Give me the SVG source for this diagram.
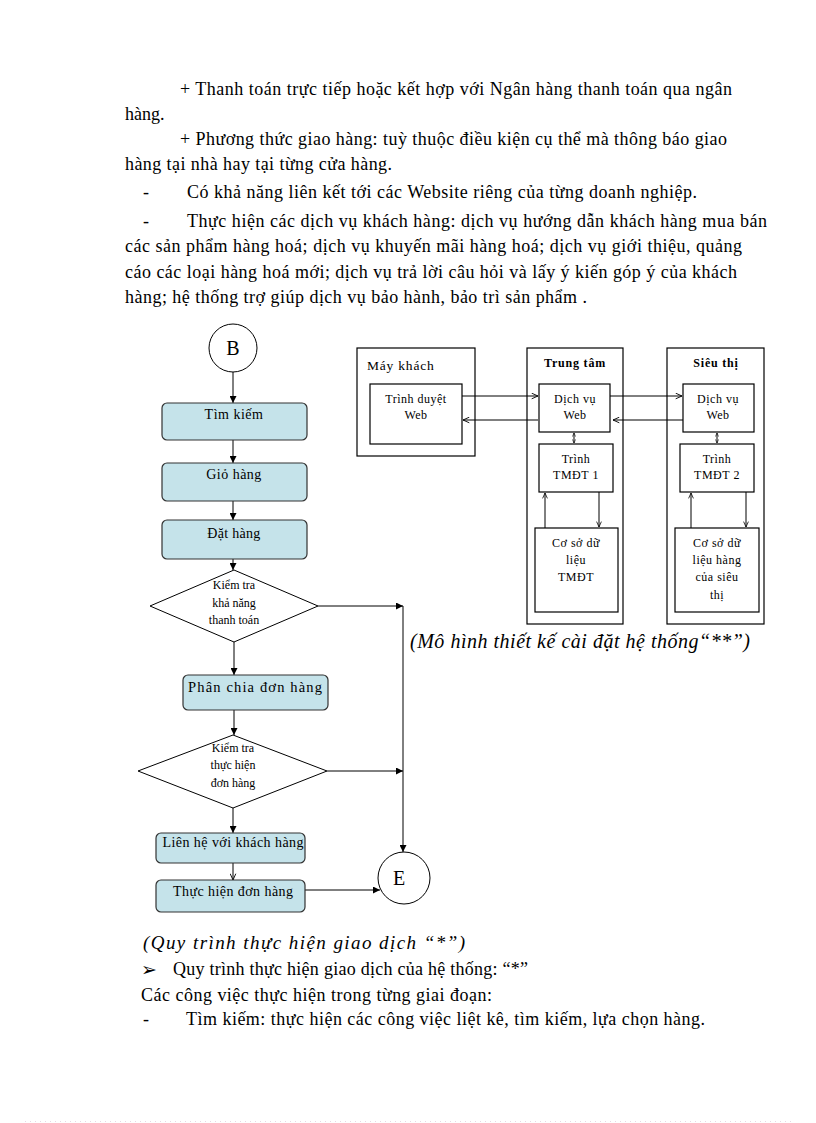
<svg xmlns="http://www.w3.org/2000/svg" width="816" height="1123" viewBox="0 0 816 1123">
<defs>
<marker id="fa" viewBox="0 0 10 10" refX="10" refY="5" markerWidth="7" markerHeight="7" markerUnits="userSpaceOnUse" orient="auto"><path d="M0,0 L10,5 L0,10 z" fill="#000"/></marker>
<marker id="oa" viewBox="0 0 10 10" refX="10" refY="5" markerWidth="7" markerHeight="7" markerUnits="userSpaceOnUse" orient="auto"><path d="M1,1 L10,5 L1,9" fill="none" stroke="#000" stroke-width="1.3"/></marker>
<marker id="os" viewBox="0 0 10 10" refX="10" refY="5" markerWidth="6" markerHeight="6" markerUnits="userSpaceOnUse" orient="auto-start-reverse"><path d="M1,1 L10,5 L1,9" fill="none" stroke="#000" stroke-width="1.3"/></marker>
<marker id="ot" viewBox="0 0 10 10" refX="10" refY="5" markerWidth="4" markerHeight="4" markerUnits="userSpaceOnUse" orient="auto-start-reverse"><path d="M1,1 L10,5 L1,9" fill="none" stroke="#000" stroke-width="1.5"/></marker>
</defs>
<style>
.body{font-family:"Liberation Serif","Times New Roman",serif;font-size:18px;fill:#000}
.it{font-family:"Liberation Serif","Times New Roman",serif;font-style:italic;fill:#000}
.bx{fill:#c5e3ea;stroke:#333;stroke-width:1.2}
.fl{font-family:"Liberation Serif","Times New Roman",serif;font-size:14px;fill:#000;text-anchor:middle}
.dm{fill:#fff;stroke:#000;stroke-width:1}
.dt{font-family:"Liberation Serif","Times New Roman",serif;font-size:12px;fill:#000;text-anchor:middle}
.ob{fill:#fff;stroke:#000;stroke-width:1.2}
.at{font-family:"Liberation Serif","Times New Roman",serif;font-size:12px;fill:#000;text-anchor:middle;letter-spacing:0.5px}
.ttl{font-family:"Liberation Serif","Times New Roman",serif;font-size:12px;font-weight:bold;fill:#000;text-anchor:middle}
.ln{fill:none;stroke:#000;stroke-width:1}
</style>
<rect width="816" height="1123" fill="#fff"/>

<g id="text-top">
<text class="body" x="180" y="95" textLength="552" lengthAdjust="spacing">+ Thanh toán trực tiếp hoặc kết hợp với Ngân hàng thanh toán qua ngân</text>
<text class="body" x="125" y="120">hàng.</text>
<text class="body" x="180" y="145" textLength="547" lengthAdjust="spacing">+ Phương thức giao hàng: tuỳ thuộc điều kiện cụ thể mà thông báo giao</text>
<text class="body" x="125" y="170" textLength="267" lengthAdjust="spacing">hàng tại nhà hay tại từng cửa hàng.</text>
<text class="body" x="143" y="198">-</text>
<text class="body" x="187" y="198" textLength="510" lengthAdjust="spacing">Có khả năng liên kết tới các Website riêng của từng doanh nghiệp.</text>
<text class="body" x="143" y="227">-</text>
<text class="body" x="187" y="227" textLength="580" lengthAdjust="spacing">Thực hiện các dịch vụ khách hàng: dịch vụ hướng dẫn khách hàng mua bán</text>
<text class="body" x="125" y="252" textLength="617" lengthAdjust="spacing">các sản phẩm hàng hoá; dịch vụ khuyến mãi hàng hoá; dịch vụ giới thiệu, quảng</text>
<text class="body" x="125" y="278" textLength="612" lengthAdjust="spacing">cáo các loại hàng hoá mới; dịch vụ trả lời câu hỏi và lấy ý kiến góp ý của khách</text>
<text class="body" x="125" y="303" textLength="462" lengthAdjust="spacing">hàng; hệ thống trợ giúp dịch vụ bảo hành, bảo trì sản phẩm .</text>
</g>

<g id="flow-connectors">
<line class="ln" x1="233" y1="372" x2="233" y2="403" marker-end="url(#fa)"/>
<line class="ln" x1="233" y1="440" x2="233" y2="463" marker-end="url(#fa)"/>
<line class="ln" x1="233" y1="501" x2="233" y2="520" marker-end="url(#fa)"/>
<line class="ln" x1="233" y1="559" x2="233" y2="570" marker-end="url(#fa)"/>
<line class="ln" x1="234" y1="642" x2="234" y2="675" marker-end="url(#fa)"/>
<line class="ln" x1="234" y1="710" x2="234" y2="735" marker-end="url(#fa)"/>
<line class="ln" x1="233" y1="808" x2="233" y2="833" marker-end="url(#fa)"/>
<line class="ln" x1="233" y1="863" x2="233" y2="880" marker-end="url(#oa)"/>
<line class="ln" x1="305" y1="890" x2="380" y2="890" marker-end="url(#fa)"/>
<line class="ln" x1="318" y1="606" x2="403" y2="606" marker-end="url(#fa)"/>
<line class="ln" x1="327" y1="771" x2="403" y2="771" marker-end="url(#fa)"/>
<line class="ln" x1="403" y1="606" x2="403" y2="852" marker-end="url(#fa)"/>
</g>

<g id="node-B"><circle cx="233" cy="348" r="24" fill="#fff" stroke="#000" stroke-width="1"/><text x="233" y="355" font-family="Liberation Serif, serif" font-size="20" text-anchor="middle">B</text></g>
<g id="node-timkiem"><rect class="bx" x="162" y="403" width="145" height="37" rx="5"/><text class="fl" x="234" y="419" letter-spacing="0.5">Tìm kiếm</text></g>
<g id="node-giohang"><rect class="bx" x="162" y="463" width="145" height="38" rx="5"/><text class="fl" x="234" y="479" letter-spacing="0.5">Giỏ hàng</text></g>
<g id="node-dathang"><rect class="bx" x="162" y="520" width="145" height="39" rx="5"/><text class="fl" x="234" y="538" letter-spacing="0.3">Đặt hàng</text></g>
<g id="node-kt1"><polygon class="dm" points="234,570 318,606 234,642 150,606"/><text class="dt" x="234" y="589">Kiểm tra</text><text class="dt" x="234" y="607">khả năng</text><text class="dt" x="234" y="624">thanh toán</text></g>
<g id="node-phanchia"><rect class="bx" x="183" y="675" width="145" height="35" rx="5"/><text class="fl" x="255" y="692" textLength="134" lengthAdjust="spacing" style="font-size:14.5px">Phân chia đơn hàng</text></g>
<g id="node-kt2"><polygon class="dm" points="233,735 327,771 233,808 138,771"/><text class="dt" x="233" y="752">Kiểm tra</text><text class="dt" x="233" y="769">thực hiện</text><text class="dt" x="233" y="787">đơn hàng</text></g>
<g id="node-lienhe"><rect class="bx" x="156" y="833" width="149" height="30" rx="5"/><text class="fl" x="233" y="847" textLength="141" lengthAdjust="spacing">Liên hệ với khách hàng</text></g>
<g id="node-thuchien"><rect class="bx" x="156" y="880" width="149" height="32" rx="5"/><text class="fl" x="233" y="896" textLength="120" lengthAdjust="spacing">Thực hiện đơn hàng</text></g>
<g id="node-E"><circle cx="404" cy="878" r="26" fill="#fff" stroke="#000" stroke-width="1"/><text x="399" y="885" font-family="Liberation Serif, serif" font-size="20" text-anchor="middle">E</text></g>

<g id="arch-maykhach"><rect class="ob" x="357" y="348" width="118" height="108"/><text x="367" y="370" font-family="Liberation Serif, serif" font-size="13.5" letter-spacing="0.8">Máy khách</text>
<rect class="ob" x="370" y="384" width="92" height="60"/><text class="at" x="416" y="403">Trình duyệt</text><text class="at" x="416" y="419">Web</text></g>
<g id="arch-trungtam"><rect class="ob" x="527" y="348" width="96" height="276"/><text class="ttl" x="575" y="367" letter-spacing="0.8">Trung tâm</text>
<rect class="ob" x="539" y="384" width="71" height="48"/><text class="at" x="575" y="403">Dịch vụ</text><text class="at" x="575" y="419">Web</text>
<rect class="ob" x="539" y="444" width="74" height="48"/><text class="at" x="576" y="463">Trình</text><text class="at" x="576" y="479">TMĐT 1</text>
<rect class="ob" x="535" y="528" width="83" height="84"/><text class="at" x="576" y="547">Cơ sở dữ</text><text class="at" x="576" y="564">liệu</text><text class="at" x="576" y="581">TMĐT</text></g>
<g id="arch-sieuthi"><rect class="ob" x="667" y="348" width="97" height="276"/><text class="ttl" x="716" y="367" letter-spacing="0.8">Siêu thị</text>
<rect class="ob" x="683" y="384" width="71" height="48"/><text class="at" x="718" y="403">Dịch vụ</text><text class="at" x="718" y="419">Web</text>
<rect class="ob" x="680" y="444" width="74" height="48"/><text class="at" x="717" y="463">Trình</text><text class="at" x="717" y="479">TMĐT 2</text>
<rect class="ob" x="675" y="528" width="84" height="84"/><text class="at" x="717" y="547">Cơ sở dữ</text><text class="at" x="717" y="564">liệu hàng</text><text class="at" x="717" y="581">của siêu</text><text class="at" x="717" y="599">thị</text></g>

<g id="arch-connectors">
<line class="ln" x1="462" y1="396" x2="538" y2="396" marker-end="url(#oa)"/>
<line class="ln" x1="538" y1="420" x2="463" y2="420" marker-end="url(#oa)"/>
<line class="ln" x1="610" y1="396" x2="682" y2="396" marker-end="url(#oa)"/>
<line class="ln" x1="683" y1="420" x2="613" y2="420" marker-end="url(#oa)"/>
<line class="ln" x1="574" y1="433" x2="574" y2="443" marker-start="url(#ot)" marker-end="url(#ot)"/>
<line class="ln" x1="717" y1="433" x2="717" y2="443" marker-start="url(#ot)" marker-end="url(#ot)"/>
<line class="ln" x1="545" y1="528" x2="545" y2="493" marker-end="url(#os)"/>
<line class="ln" x1="599" y1="492" x2="599" y2="527" marker-end="url(#os)"/>
<line class="ln" x1="691" y1="528" x2="691" y2="493" marker-end="url(#os)"/>
<line class="ln" x1="746" y1="492" x2="746" y2="527" marker-end="url(#os)"/>
</g>

<g id="captions">
<text class="it" x="410" y="648" font-size="20" textLength="340" lengthAdjust="spacing">(Mô hình thiết kế cài đặt hệ thống“**”)</text>
<text class="it" x="143" y="949" font-size="19" textLength="322" lengthAdjust="spacing">(Quy trình thực hiện giao dịch “*”)</text>
</g>

<g id="text-bottom">
<text x="141" y="976" font-family="DejaVu Sans, sans-serif" font-size="19">➢</text>
<text class="body" x="173" y="975" textLength="355" lengthAdjust="spacing">Quy trình thực hiện giao dịch của hệ thống: “*”</text>
<text class="body" x="141" y="1001" textLength="351" lengthAdjust="spacing">Các công việc thực hiện trong từng giai đoạn:</text>
<text class="body" x="143" y="1025">-</text>
<text class="body" x="186" y="1025" textLength="519" lengthAdjust="spacing">Tìm kiếm: thực hiện các công việc liệt kê, tìm kiếm, lựa chọn hàng.</text>
</g>

<line x1="25" y1="1121.5" x2="792" y2="1121.5" stroke="#e6d8e6" stroke-width="1" stroke-dasharray="1 4"/>
</svg>
